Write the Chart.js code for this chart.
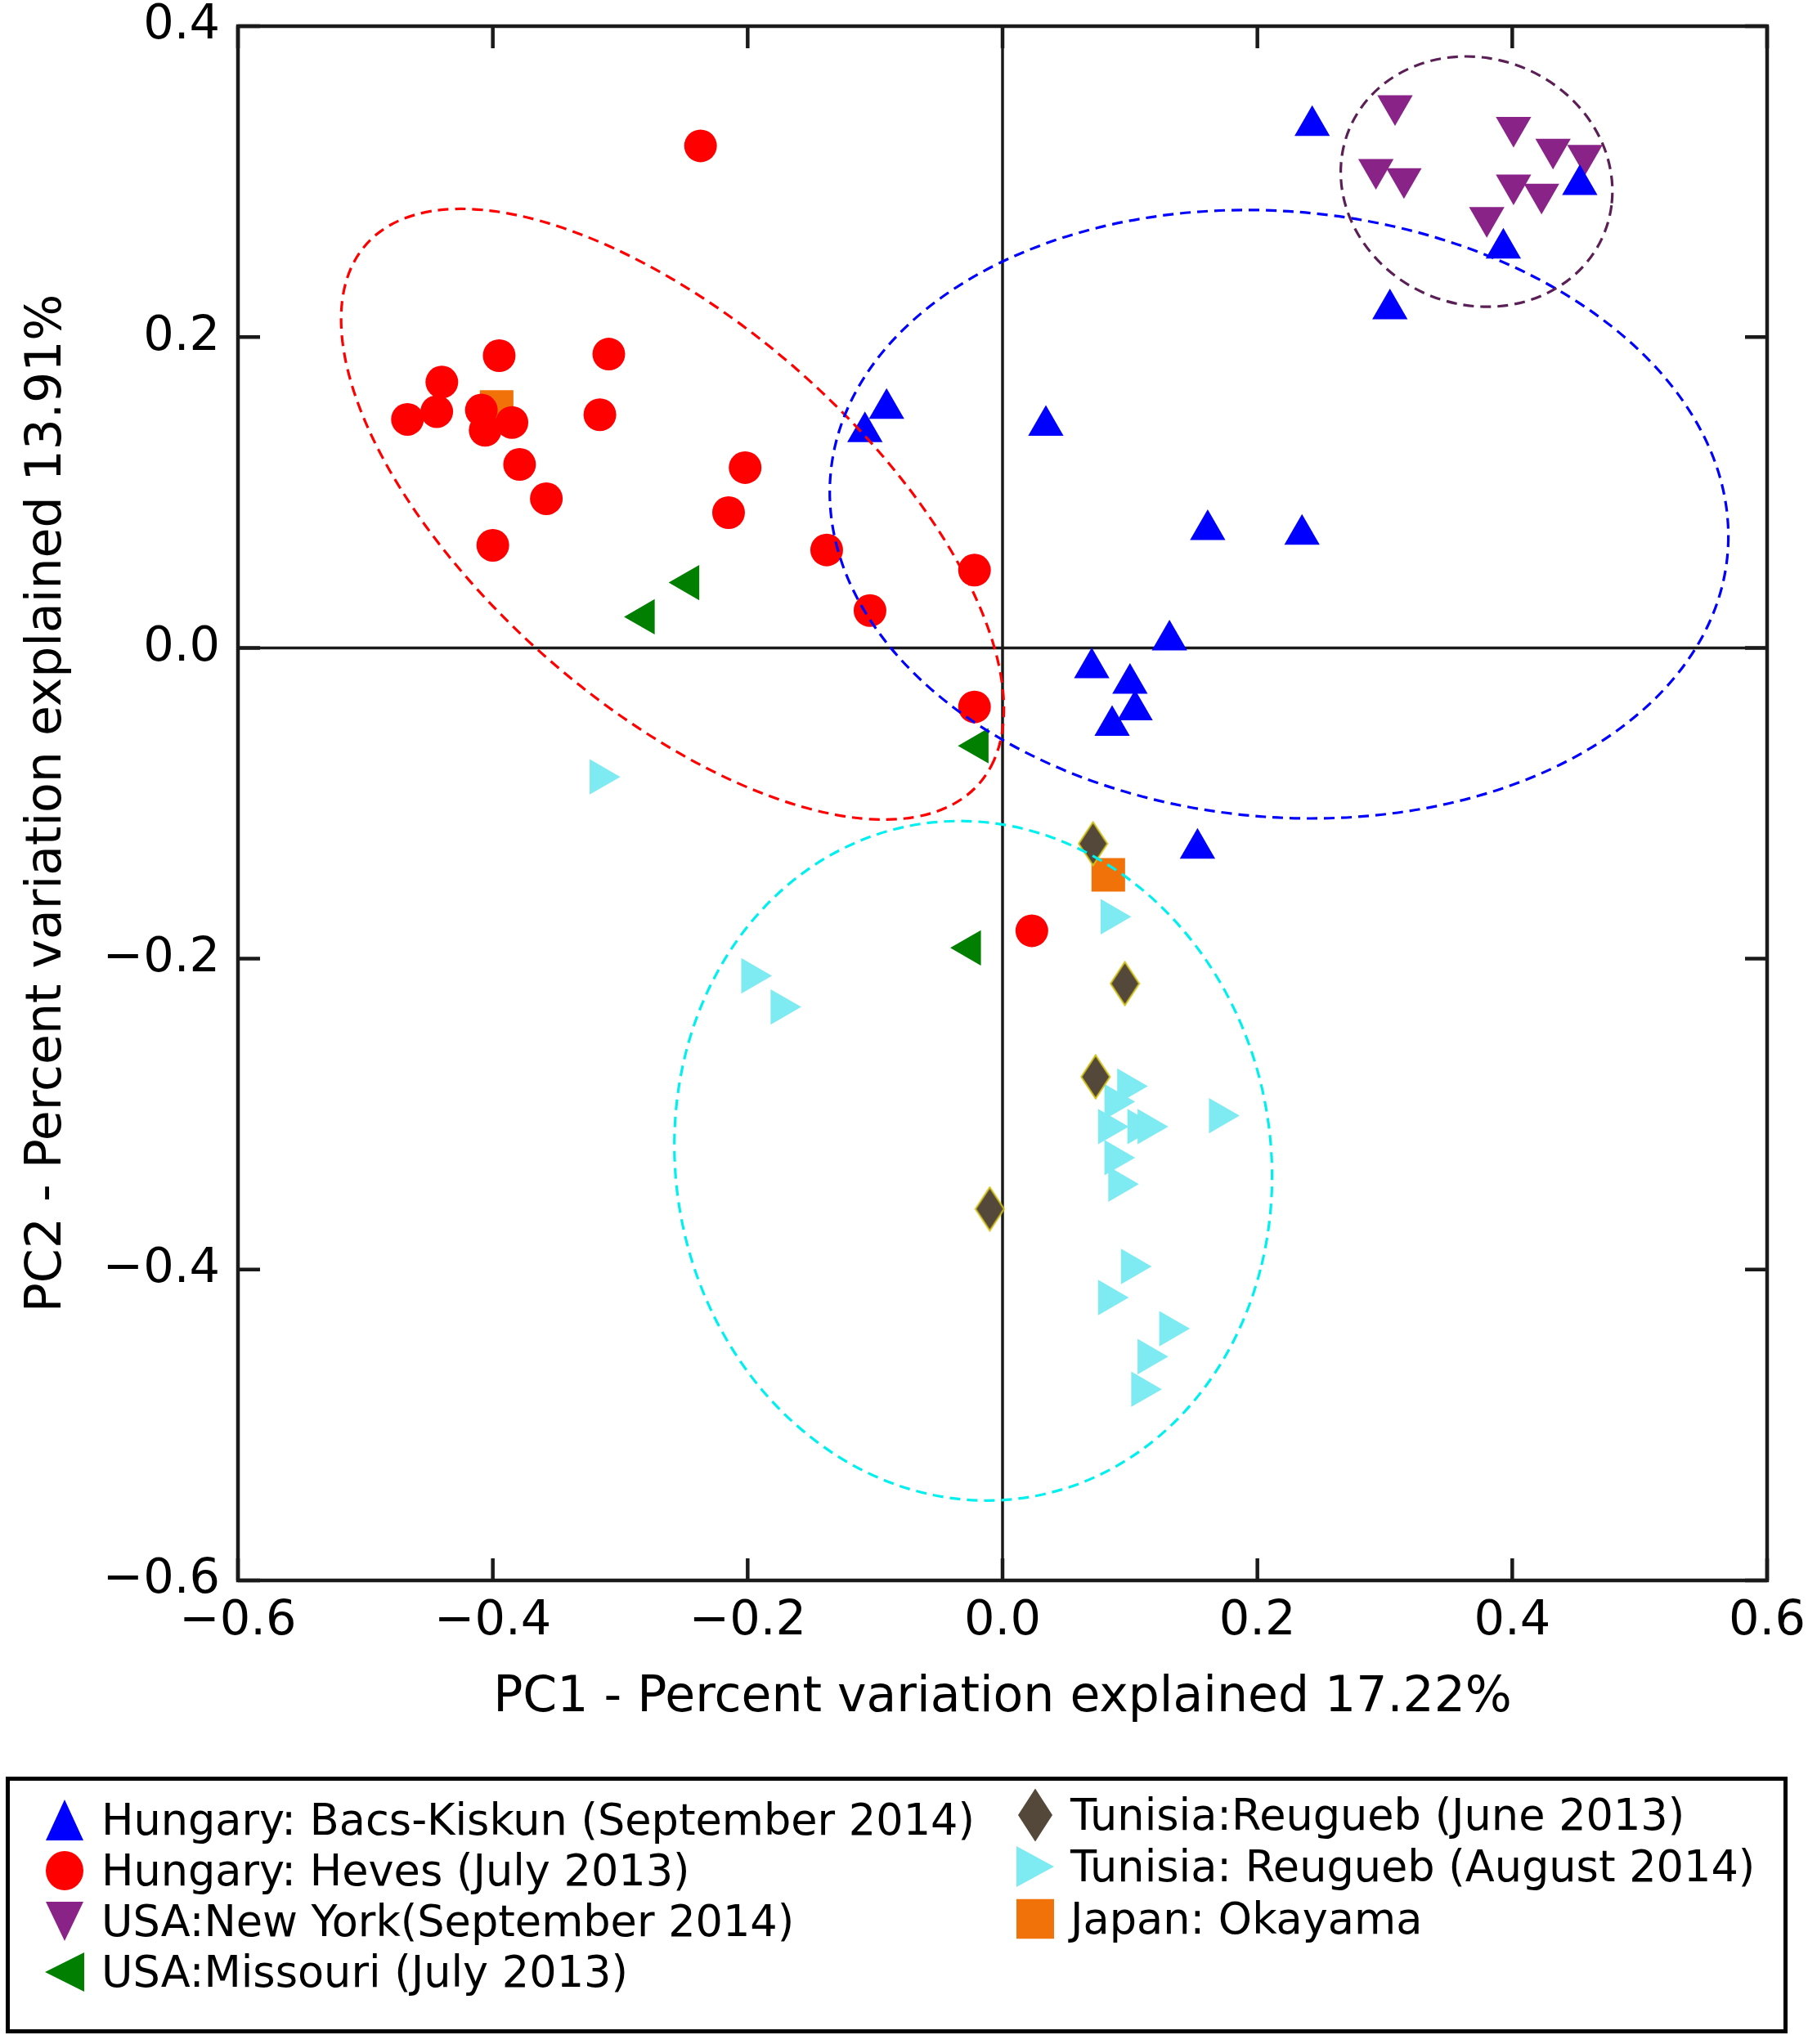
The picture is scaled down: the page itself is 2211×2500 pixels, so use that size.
<!DOCTYPE html>
<html>
<head>
<meta charset="utf-8">
<script src="https://cdn.jsdelivr.net/npm/chart.js@4.4.1/dist/chart.umd.min.js"></script>
<style>
    html, body { margin: 0; padding: 0; background: #fff; }
    body { width: 2211px; height: 2500px; position: relative; overflow: hidden; font-family: "DejaVu Sans", sans-serif; }
    #chartBox { position: absolute; left: 0; top: 0; width: 2211px; height: 2170px; }
    #legend { position: absolute; left: 7px; top: 2173px; width: 2169px; height: 304px; border: 5px solid #000; }
    .item { position: absolute; height: 60px; line-height: 60px; font-size: 52.5px; color: #000; white-space: nowrap; }
    .item svg { position: absolute; top: 50%; transform: translateY(-50%); }
    .item span { position: absolute; top: 0; }
</style>
</head>
<body>
<div id="chartBox"><canvas id="pcaChart"></canvas></div>
<div id="legend"></div>
<script>
// Tick values
const X_TICKS = [-0.6, -0.4, -0.2, 0.0, 0.2, 0.4, 0.6];
const Y_TICKS = [-0.6, -0.4, -0.2, 0.0, 0.2, 0.4];

// Group names (legend order)
const GROUPS = [
    "Hungary: Bacs-Kiskun (September 2014)",
    "Hungary: Heves (July 2013)",
    "USA:New York(September 2014)",
    "USA:Missouri (July 2013)",
    "Tunisia:Reugueb (June 2013)",
    "Tunisia: Reugueb (August 2014)",
    "Japan: Okayama"
];

// PC1 / PC2 scores
const bacsX = [0.243, 0.453, 0.393, 0.304, -0.091, -0.108, 0.034, 0.161, 0.235, 0.131, 0.070, 0.100, 0.104, 0.086, 0.153];
const bacsY = [0.336, 0.298, 0.257, 0.218, 0.154, 0.139, 0.143, 0.076, 0.073, 0.005, -0.013, -0.023, -0.040, -0.050, -0.129];

const hevesX = [-0.237, -0.467, -0.440, -0.444, -0.395, -0.409, -0.406, -0.385, -0.379, -0.358, -0.400, -0.309, -0.316, -0.202, -0.215, -0.138, -0.104, -0.022, -0.022, 0.023];
const hevesY = [0.323, 0.147, 0.171, 0.152, 0.188, 0.153, 0.140, 0.145, 0.118, 0.096, 0.066, 0.189, 0.150, 0.116, 0.087, 0.063, 0.024, 0.050, -0.038, -0.182];

const newYorkX = [0.308, 0.293, 0.315, 0.401, 0.432, 0.457, 0.401, 0.423, 0.380];
const newYorkY = [0.349, 0.308, 0.302, 0.335, 0.321, 0.317, 0.298, 0.292, 0.277];

const missouriX = [-0.246, -0.281, -0.019, -0.025];
const missouriY = [0.042, 0.020, -0.063, -0.193];

const tunJuneX = [0.071, 0.096, 0.073, -0.010];
const tunJuneY = [-0.126, -0.216, -0.276, -0.361];

const tunAugX = [-0.316, -0.197, -0.174, 0.085, 0.098, 0.088, 0.083, 0.106, 0.114, 0.170, 0.088, 0.091, 0.101, 0.083, 0.131, 0.114, 0.109];
const tunAugY = [-0.083, -0.211, -0.231, -0.173, -0.282, -0.292, -0.308, -0.308, -0.308, -0.301, -0.328, -0.345, -0.398, -0.418, -0.438, -0.456, -0.477];

const okayamaX = [-0.397, 0.083];
const okayamaY = [0.155, -0.146];

// Group ellipses (red, blue, purple, cyan): centre, semi-axes, angle in degrees
const ellipseCx = [-0.259, 0.217, 0.372, -0.023];
const ellipseCy = [0.086, 0.086, 0.300, -0.330];
const ellipseRx = [0.298, 0.353, 0.107, 0.236];
const ellipseRy = [0.132, 0.195, 0.080, 0.217];
const ellipseAngle = [-33.0, -3.3, -7.5, -16.5];

const ELLIPSE_COLORS = ["#ff0000", "#0000ff", "#5a1f55", "#00f0f0"];
const COLORS = ["#0000ff", "#ff0000", "#8a2387", "#007f00", "#54483a", "#7eeaf2", "#f07208"];
const FONT = "'DejaVu Sans', sans-serif";

// Elongated diamond used for the June 2013 Tunisian samples
function diamondCanvas(w, h) {
    const c = document.createElement("canvas");
    c.width = w; c.height = h;
    const g = c.getContext("2d");
    g.beginPath();
    g.moveTo(w / 2, 1.5); g.lineTo(w - 1.5, h / 2); g.lineTo(w / 2, h - 1.5); g.lineTo(1.5, h / 2);
    g.closePath();
    g.fillStyle = COLORS[4];
    g.fill();
    g.strokeStyle = "#d2c21a";
    g.lineWidth = 2;
    g.stroke();
    return c;
}

const toPoints = (xs, ys) => xs.map((x, i) => ({ x, y: ys[i] }));
const fmt = v => (Math.abs(v) < 1e-9 ? "0.0" : v.toFixed(1).replace("-", "\u2212"));

// Zero lines behind the markers
const zeroLines = {
    id: "zeroLines",
    beforeDatasetsDraw(chart) {
        const { ctx, chartArea: a, scales: { x, y } } = chart;
        const x0 = x.getPixelForValue(0), y0 = y.getPixelForValue(0);
        ctx.save();
        ctx.strokeStyle = "#1a1a1a";
        ctx.lineWidth = 3.5;
        ctx.beginPath();
        ctx.moveTo(x0, a.top); ctx.lineTo(x0, a.bottom);
        ctx.moveTo(a.left, y0); ctx.lineTo(a.right, y0);
        ctx.stroke();
        ctx.restore();
    }
};

// Dashed group ellipses, drawn in data space
const ellipses = {
    id: "ellipses",
    afterDatasetsDraw(chart) {
        const { ctx, chartArea: a, scales: { x, y } } = chart;
        const sx = x.getPixelForValue(1) - x.getPixelForValue(0);
        const sy = y.getPixelForValue(0) - y.getPixelForValue(1);
        ctx.save();
        ctx.beginPath();
        ctx.rect(a.left, a.top, a.width, a.height);
        ctx.clip();
        ellipseCx.forEach((cx, i) => {
            ctx.save();
            ctx.beginPath();
            ctx.translate(x.getPixelForValue(cx), y.getPixelForValue(ellipseCy[i]));
            ctx.scale(sx, -sy);
            ctx.rotate(ellipseAngle[i] * Math.PI / 180);
            ctx.ellipse(0, 0, ellipseRx[i], ellipseRy[i], 0, 0, 2 * Math.PI);
            ctx.restore();
            ctx.strokeStyle = ELLIPSE_COLORS[i];
            ctx.lineWidth = 3.2;
            ctx.setLineDash([13, 8]);
            ctx.stroke();
        });
        ctx.restore();
    }
};

// Box frame with inward ticks on all four sides
const frame = {
    id: "frame",
    afterDraw(chart) {
        const { ctx, chartArea: a, scales: { x, y } } = chart;
        const len = 27;
        ctx.save();
        ctx.strokeStyle = "#1a1a1a";
        ctx.lineWidth = 4.5;
        ctx.strokeRect(a.left, a.top, a.width, a.height);
        ctx.beginPath();
        X_TICKS.forEach(v => {
            const p = x.getPixelForValue(v);
            ctx.moveTo(p, a.bottom); ctx.lineTo(p, a.bottom - len);
            ctx.moveTo(p, a.top); ctx.lineTo(p, a.top + len);
        });
        Y_TICKS.forEach(v => {
            const p = y.getPixelForValue(v);
            ctx.moveTo(a.left, p); ctx.lineTo(a.left + len, p);
            ctx.moveTo(a.right, p); ctx.lineTo(a.right - len, p);
        });
        ctx.stroke();
        ctx.restore();
    }
};

function renderChart() {
    const ctx = document.getElementById("pcaChart");
    const xs = [bacsX, hevesX, newYorkX, missouriX, tunJuneX, tunAugX, okayamaX];
    const ys = [bacsY, hevesY, newYorkY, missouriY, tunJuneY, tunAugY, okayamaY];
    const styles = ["triangle", "circle", "triangle", "triangle", diamondCanvas(38, 56), "triangle", "rect"];
    const rotations = [0, 0, 180, 270, 0, 90, 0];
    const radii = [25, 20, 25, 25, 25, 25, 29];

    const datasets = GROUPS.map((label, i) => ({
        label,
        data: toPoints(xs[i], ys[i]),
        pointStyle: styles[i],
        pointRotation: rotations[i],
        pointRadius: radii[i],
        backgroundColor: COLORS[i],
        borderColor: COLORS[i],
        borderWidth: 0
    }));

    new Chart(ctx, {
        type: "scatter",
        data: { datasets },
        options: {
            responsive: true,
            maintainAspectRatio: false,
            devicePixelRatio: 1,
            animation: false,
            events: [],
            layout: { padding: { left: 0, right: 50, top: 32, bottom: 0 } },
            plugins: { legend: { display: false }, tooltip: { enabled: false } },
            scales: {
                x: {
                    type: "linear",
                    min: -0.6,
                    max: 0.6,
                    afterBuildTicks: s => { s.ticks = X_TICKS.map(value => ({ value })); },
                    afterFit: s => { s.height = 237; s.paddingLeft = 0; s.paddingRight = 0; },
                    grid: { display: false, drawTicks: false },
                    border: { display: false },
                    ticks: {
                        color: "#000",
                        padding: 21,
                        maxRotation: 0,
                        font: { family: FONT, size: 59, lineHeight: 1 },
                        callback: v => fmt(v)
                    },
                    title: {
                        display: true,
                        text: "PC1 - Percent variation explained 17.22%",
                        color: "#000",
                        font: { family: FONT, size: 60, lineHeight: 1 },
                        padding: { top: 0, bottom: 63 }
                    }
                },
                y: {
                    type: "linear",
                    min: -0.6,
                    max: 0.4,
                    afterBuildTicks: s => { s.ticks = Y_TICKS.map(value => ({ value })); },
                    afterFit: s => { s.width = 291; s.paddingTop = 0; s.paddingBottom = 0; },
                    grid: { display: false, drawTicks: false },
                    border: { display: false },
                    ticks: {
                        color: "#000",
                        padding: 22,
                        font: { family: FONT, size: 59, lineHeight: 1 },
                        callback: v => fmt(v)
                    },
                    title: {
                        display: true,
                        text: "PC2 - Percent variation explained 13.91%",
                        color: "#000",
                        font: { family: FONT, size: 60, lineHeight: 1 },
                        padding: { top: 28, bottom: 0 }
                    }
                }
            }
        },
        plugins: [zeroLines, ellipses, frame]
    });
}

// Legend marker shapes as small SVGs
function markerSvg(i) {
    const c = COLORS[i];
    const shapes = [
        `<svg width="46" height="50"><polygon points="23,0 46,50 0,50" fill="${c}"/></svg>`,
        `<svg width="46" height="48"><ellipse cx="23" cy="24" rx="23" ry="24" fill="${c}"/></svg>`,
        `<svg width="46" height="48"><polygon points="0,0 46,0 23,48" fill="${c}"/></svg>`,
        `<svg width="48" height="48"><polygon points="0,24 48,0 48,48" fill="${c}"/></svg>`,
        `<svg width="42" height="65"><polygon points="21,0 42,32.5 21,65 0,32.5" fill="${c}"/></svg>`,
        `<svg width="46" height="50"><polygon points="0,0 46,25 0,50" fill="${c}"/></svg>`,
        `<svg width="46" height="49"><rect width="46" height="49" fill="${c}"/></svg>`
    ];
    return shapes[i];
}

function renderLegend() {
    const legend = document.getElementById("legend");
    // column 1 holds the first four groups, column 2 the rest
    const col = [0, 0, 0, 0, 1, 1, 1];
    const rowCenter = [[48, 110, 172, 234], [42, 105, 169]];
    const markerX = [67, 1254];
    const textX = [112, 1297];
    let rows = [0, 0];
    GROUPS.forEach((label, i) => {
        const c = col[i];
        const r = rows[c]++;
        const item = document.createElement("div");
        item.className = "item";
        item.style.top = (rowCenter[c][r] - 30) + "px";
        item.style.left = "0px";
        item.innerHTML = markerSvg(i);
        const svg = item.querySelector("svg");
        svg.style.left = (markerX[c] - svg.getAttribute("width") / 2) + "px";
        const span = document.createElement("span");
        span.style.left = textX[c] + "px";
        span.textContent = label;
        item.appendChild(span);
        legend.appendChild(item);
    });
}

document.addEventListener("DOMContentLoaded", () => {
    renderChart();
    renderLegend();
});
</script>
</body>
</html>
